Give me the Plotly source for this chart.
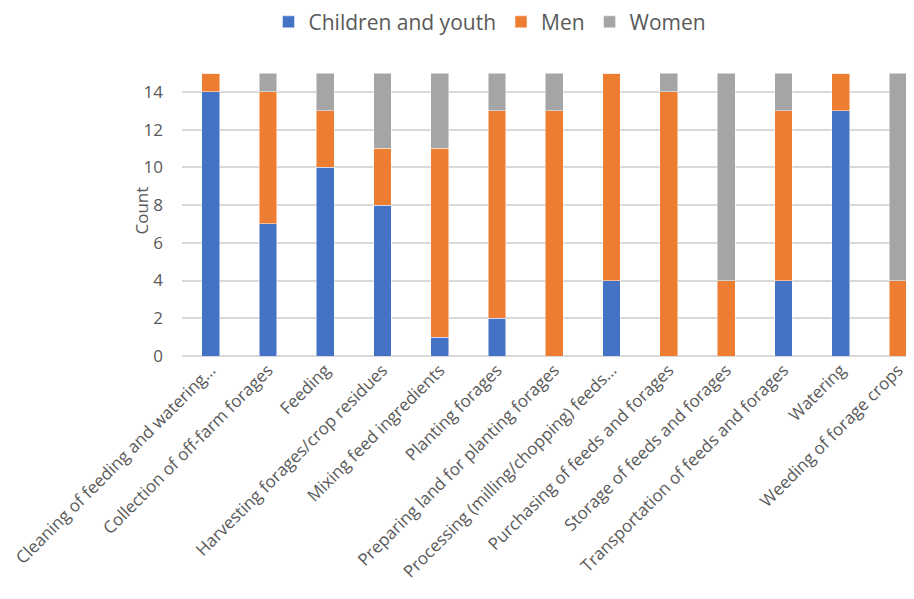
import plotly.graph_objects as go

categories = [
    "Cleaning of feeding and watering…",
    "Collection of off-farm forages",
    "Feeding",
    "Harvesting forages/crop residues",
    "Mixing feed ingredients",
    "Planting forages",
    "Preparing land for planting forages",
    "Processing (milling/chopping) feeds…",
    "Purchasing of feeds and forages",
    "Storage of feeds and forages",
    "Transportation of feeds and forages",
    "Watering",
    "Weeding of forage crops",
]
children_youth = [14, 7, 10, 8, 1, 2, 0, 4, 0, 0, 4, 13, 0]
men = [1, 7, 3, 3, 10, 11, 13, 11, 14, 4, 9, 2, 4]
women = [0, 1, 2, 4, 4, 2, 2, 0, 1, 11, 2, 0, 11]
y_ticks = [0, 2, 4, 6, 8, 10, 12, 14]

series = [
    ("Children and youth", children_youth, "#4472C4"),
    ("Men", men, "#ED7D31"),
    ("Women", women, "#A5A5A5"),
]

fig = go.Figure()
for name, vals, color in series:
    fig.add_trace(go.Bar(
        x=categories, y=vals, name=name,
        marker=dict(color=color, line=dict(color="rgba(255,255,255,0.6)", width=0.8)),
    ))

font_fam = "Open Sans, Liberation Sans, sans-serif"
fig.update_layout(
    barmode="stack",
    bargap=0.69,
    width=906, height=591,
    margin=dict(l=174, r=0, t=65, b=243, autoexpand=False),
    paper_bgcolor="white", plot_bgcolor="white",
    font=dict(family=font_fam, color="#595959", size=17),
    legend=dict(orientation="h", x=0.532, xanchor="center", xref="container",
                y=0.976, yanchor="middle", yref="container",
                font=dict(size=21, color="#595959"), traceorder="normal",
                itemwidth=30),
    xaxis=dict(tickangle=-45, tickfont=dict(size=17, color="#595959"),
               showgrid=False, showline=False, ticks="", automargin=False,
               range=[-0.5, 12.28]),
    yaxis=dict(range=[0, 15], tickvals=y_ticks, showgrid=True, gridcolor="#D9D9D9",
               gridwidth=1.5, zeroline=True, zerolinecolor="#D9D9D9", zerolinewidth=1.5,
               tickfont=dict(size=17, color="#595959"), ticks="", ticklabelstandoff=18,
               automargin=False),
    annotations=[dict(text="Count", xref="paper", yref="paper", x=0, y=0.5,
                      xanchor="center", yanchor="middle", xshift=-41, yshift=4,
                      textangle=-90, showarrow=False,
                      font=dict(size=17, color="#595959"))],
)
fig.write_html("out.html")
